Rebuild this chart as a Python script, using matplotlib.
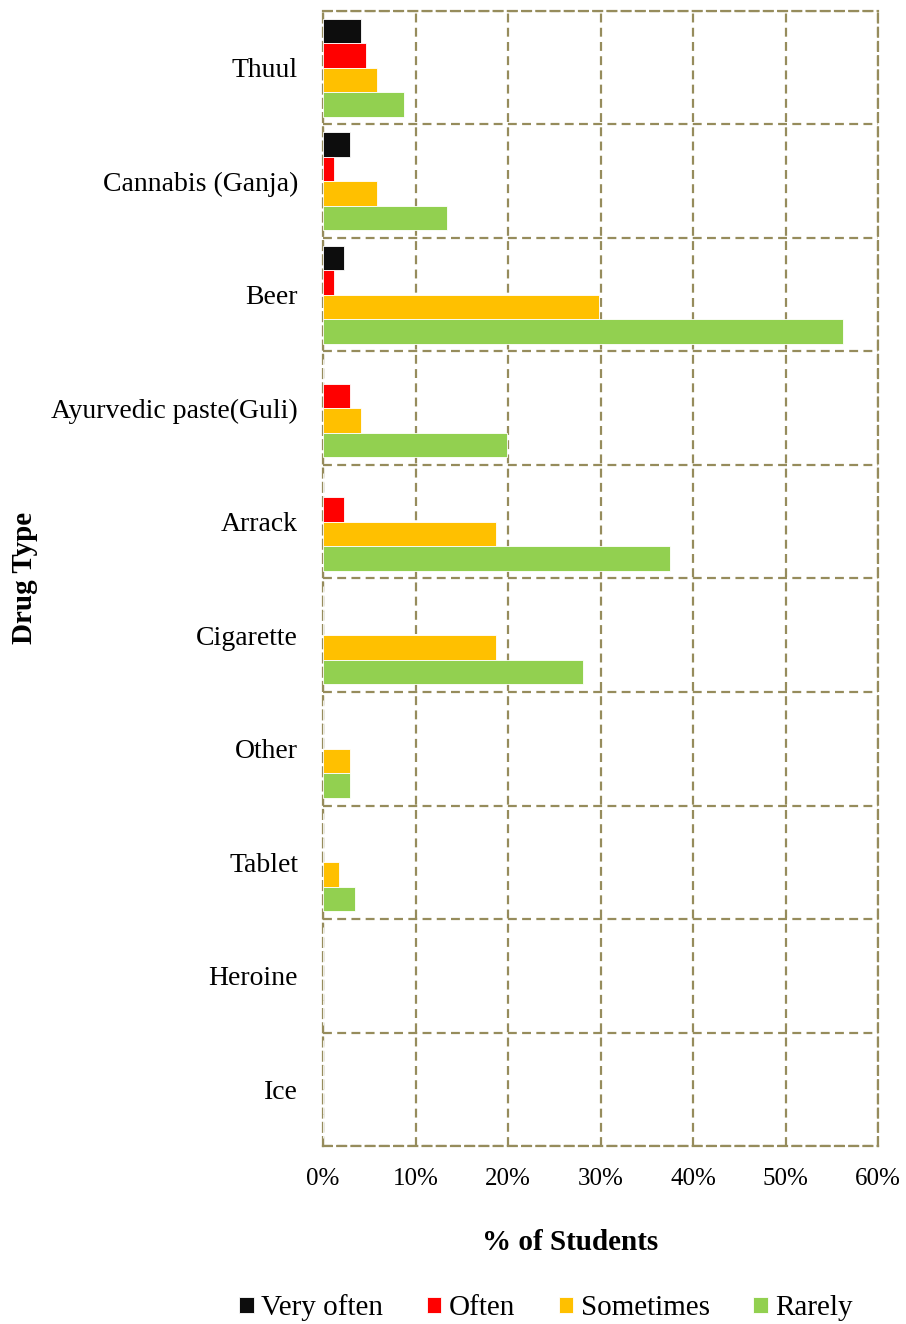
import matplotlib
matplotlib.use("Agg")
import matplotlib.pyplot as plt
import numpy as np
from matplotlib.ticker import FixedLocator, FuncFormatter

plt.rcParams['font.family'] = ['Liberation Serif', 'DejaVu Serif']

categories = ["Thuul", "Cannabis (Ganja)", "Beer", "Ayurvedic paste(Guli)", "Arrack",
              "Cigarette", "Other", "Tablet", "Heroine", "Ice"]
series_names = ["Very often", "Often", "Sometimes", "Rarely"]
very_often = [4.07, 2.88, 2.31, 0, 0, 0, 0, 0, 0, 0]
often = [4.68, 1.15, 1.16, 2.92, 2.30, 0, 0, 0, 0, 0]
sometimes = [5.84, 5.84, 29.8, 4.07, 18.75, 18.75, 2.92, 1.77, 0, 0]
rarely = [8.79, 13.44, 56.2, 19.9, 37.5, 28.1, 2.92, 3.5, 0, 0]
colors = ["#0d0d0d", "#ff0000", "#ffc000", "#92d050"]
xticks = [0, 10, 20, 30, 40, 50, 60]

fig = plt.figure(figsize=(9.06, 13.24), dpi=100)
ax = fig.add_axes([323/906, 1-1146/1324, 555/906, (1146-11)/1324])

n = len(categories)
ypos = np.arange(n)[::-1]  # Thuul at top
h = 0.216
offsets = [1.5*h, 0.5*h, -0.5*h, -1.5*h]
for vals, name, col, off in zip([very_often, often, sometimes, rarely], series_names, colors, offsets):
    ax.barh(ypos + off, vals, height=h, color=col, label=name,
            edgecolor='white', linewidth=0.6, zorder=3)

ax.set_xlim(0, 60)
ax.set_ylim(-0.5, n - 0.5)
ax.set_xticks(xticks)
ax.xaxis.set_major_formatter(FuncFormatter(lambda v, p: f"{int(v)}%"))
ax.set_yticks(ypos)
ax.set_yticklabels(categories)
ax.yaxis.set_minor_locator(FixedLocator(np.arange(-0.5, n, 1.0)))
ax.tick_params(axis='both', which='both', length=0)
ax.tick_params(axis='y', pad=18, labelsize=20)
ax.tick_params(axis='x', pad=16, labelsize=18)

gcol = '#968c5c'
ax.grid(axis='x', which='major', color=gcol, linestyle=(0, (4, 2.4)), linewidth=1.6, zorder=0)
ax.grid(axis='y', which='minor', color=gcol, linestyle=(0, (4, 2.4)), linewidth=1.6, zorder=0)
ax.grid(axis='y', which='major', visible=False)
for s in ax.spines.values():
    s.set_color(gcol)
    s.set_linestyle((0, (4, 2.4)))
    s.set_linewidth(1.6)

ax.set_xlabel("% of Students", fontsize=21, fontweight='bold')
ax.xaxis.set_label_coords((570 - 323) / 555, -(1242 - 1146) / 1135)
ax.xaxis.label.set_va('center')
ax.set_ylabel("Drug Type", fontsize=21, fontweight='bold')
ax.yaxis.set_label_coords((25 - 323) / 555, (1146 - 578) / 1135)
ax.yaxis.label.set_va('center')

leg = fig.legend(loc='center', bbox_to_anchor=(546/906, 1-1308/1324), ncol=4, frameon=False,
                 fontsize=21, handlelength=0.5, handleheight=0.5, handletextpad=0.25,
                 columnspacing=1.5)

fig.savefig("out.png", dpi=100)
